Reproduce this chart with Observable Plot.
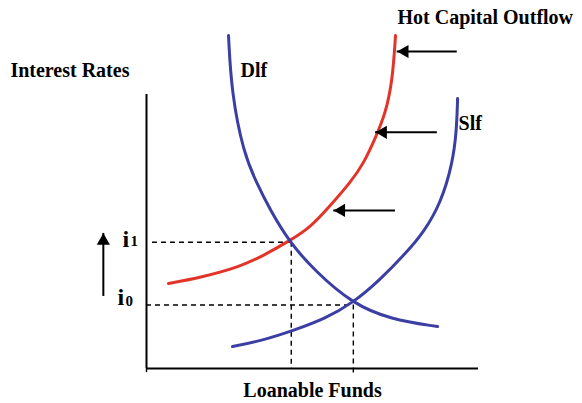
<!DOCTYPE html>
<html>
<head>
<meta charset="utf-8">
<script src="https://cdn.jsdelivr.net/npm/d3@7"></script>
<script src="https://cdn.jsdelivr.net/npm/@observablehq/plot@0.6"></script>
<style>
  html, body { margin: 0; padding: 0; background: #fff; }
  #chart svg { display: block; }
</style>
</head>
<body>
<div id="chart"></div>
<script>
// Loanable funds (x) vs interest rate (y), arbitrary units, axes 0..10
const demandDlf = [
  [2.47, 12.15], [2.56, 10.07], [2.92, 7.88], [3.31, 6.79], [3.73, 5.77],
  [4.31, 4.60], [5.09, 3.54], [6.20, 2.37], [7.35, 1.79], [8.77, 1.53]
];
const supplySlf = [
  [2.59, 0.80], [3.49, 1.02], [4.43, 1.39], [5.39, 1.82], [6.23, 2.41],
  [6.99, 3.18], [7.86, 4.27], [8.34, 4.96], [8.86, 6.02], [9.22, 7.48],
  [9.34, 8.69], [9.37, 9.85]
];
const supplyOutflow = [
  [0.66, 3.10], [1.63, 3.32], [2.83, 3.72], [3.52, 4.12], [4.28, 4.64],
  [4.94, 5.15], [5.54, 5.95], [6.14, 6.79], [6.54, 7.48], [6.90, 8.43],
  [7.20, 9.31], [7.41, 10.51], [7.50, 12.15]
];
// equilibria
const i0 = 2.32, q0 = 6.23;
const i1 = 4.61, q1 = 4.36;
// shift arrows (from x, to x, at rate y)
const shiftArrows = [
  {from: 9.36, to: 7.55, y: 11.57},
  {from: 8.76, to: 6.90, y: 8.62},
  {from: 7.50, to: 5.64, y: 5.77}
];
const riseArrow = {x: -1.30, from: 2.63, to: 4.93};
// text labels
const titleText = "Hot Capital Outflow";
const yTitle = "Interest Rates";
const xTitle = "Loanable Funds";
const curveLabels = [
  {text: "Dlf", x: 2.83, y: 10.88},
  {text: "Slf", x: 9.40, y: 8.94}
];
const rateLabels = [
  {main: "i", sub: "1", x: -0.72, y: 4.73, subX: -0.48, subY: 4.63},
  {main: "i", sub: "0", x: -0.87, y: 2.58, subX: -0.63, subY: 2.47}
];

const blue = "#3b3fa3";
const red = "#e3342a";
const font = "'Liberation Serif', 'Times New Roman', serif";

const toPts = arr => arr.map(([x, y]) => ({x, y}));

const chart = Plot.plot({
  width: 582,
  height: 403,
  marginLeft: 146,
  marginRight: 104,
  marginTop: 94,
  marginBottom: 35,
  x: {domain: [0, 10], axis: null},
  y: {domain: [0, 10], axis: null},
  style: {fontFamily: font, background: "#fff", overflow: "visible"},
  marks: [
    // dashed guides
    Plot.ruleY([i1], {x1: 0.18, x2: q1, stroke: "#000", strokeWidth: 1.4, strokeDasharray: "5,4"}),
    Plot.ruleX([q1], {y1: i1, y2: 0, stroke: "#000", strokeWidth: 1.4, strokeDasharray: "5,4"}),
    Plot.ruleY([i0], {x1: 0, x2: q0, stroke: "#000", strokeWidth: 1.4, strokeDasharray: "5,4"}),
    Plot.ruleX([q0], {y1: i0, y2: -0.25, stroke: "#000", strokeWidth: 1.4, strokeDasharray: "5,4"}),
    // axes
    Plot.ruleX([0], {y1: 0, y2: 10, stroke: "#000", strokeWidth: 2}),
    Plot.ruleY([0], {x1: 0, x2: 10, stroke: "#000", strokeWidth: 2}),
    Plot.ruleX([0], {y1: 0, y2: -0.15, stroke: "#000", strokeWidth: 1.4}),
    // curves
    Plot.line(toPts(supplyOutflow), {x: "x", y: "y", stroke: red, strokeWidth: 3, curve: "basis"}),
    Plot.line(toPts(supplySlf), {x: "x", y: "y", stroke: blue, strokeWidth: 3, curve: "basis"}),
    Plot.line(toPts(demandDlf), {x: "x", y: "y", stroke: blue, strokeWidth: 3, curve: "basis"}),
    // shift arrows
    Plot.ruleY(shiftArrows, {y: "y", x1: "from", x2: "to", stroke: "#000", strokeWidth: 2}),
    Plot.dot(shiftArrows, {x: "to", y: "y", symbol: "triangle", r: 4.9, fill: "#000", stroke: "none", rotate: -90, dx: 7.5}),
    Plot.ruleX([riseArrow], {x: "x", y1: "from", y2: "to", stroke: "#000", strokeWidth: 2}),
    Plot.dot([riseArrow], {x: "x", y: "to", symbol: "triangle", r: 4.9, fill: "#000", stroke: "none", dy: 7.5}),
    // labels
    Plot.text([titleText], {x: 7.56, y: 12.81, text: d => d, textAnchor: "start", fontSize: 20, fontWeight: "bold", fill: "#000"}),
    Plot.text([yTitle], {x: -4.10, y: 10.88, text: d => d, textAnchor: "start", fontSize: 20, fontWeight: "bold", fill: "#000"}),
    Plot.text([xTitle], {x: 5.0, y: -0.80, text: d => d, textAnchor: "middle", fontSize: 20, fontWeight: "bold", fill: "#000"}),
    Plot.text(curveLabels, {x: "x", y: "y", text: "text", textAnchor: "start", fontSize: 20, fontWeight: "bold", fill: "#000"}),
    Plot.text(rateLabels, {x: "x", y: "y", text: "main", textAnchor: "start", fontSize: 24, fontWeight: "bold", fill: "#000"}),
    Plot.text(rateLabels, {x: "subX", y: "subY", text: "sub", textAnchor: "start", fontSize: 15, fontWeight: "bold", fill: "#000"})
  ]
});
document.getElementById("chart").appendChild(chart);
</script>
</body>
</html>
